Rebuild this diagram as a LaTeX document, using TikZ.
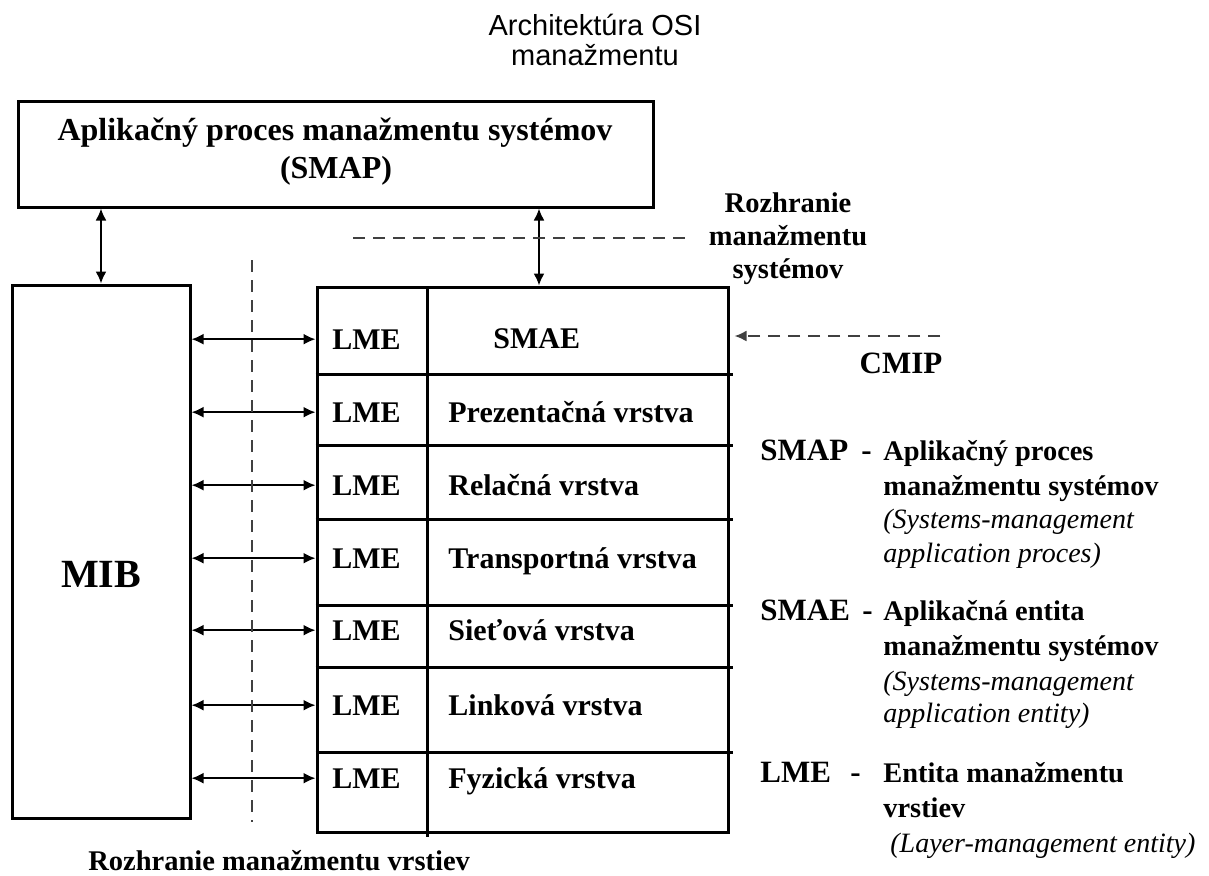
\documentclass[tikz,border=0pt]{standalone}
\usepackage{fontspec}
\setmainfont{Liberation Serif}
\newfontfamily\arialf{Liberation Sans}
\usetikzlibrary{arrows.meta}
\begin{document}
\begin{tikzpicture}[x=0.5pt,y=-0.5pt,
  box/.style={draw, line width=1.5pt, inner sep=0pt, rectangle},
  frame/.style={line width=1.5pt},
  txt/.style={inner sep=0pt, anchor=base west, font=\bfseries\fontsize{15}{18}\selectfont},
  ctxt/.style={inner sep=0pt, anchor=base, font=\bfseries\fontsize{14.25}{17}\selectfont},
  keytxt/.style={inner sep=0pt, anchor=base west, font=\bfseries\fontsize{15.5}{18}\selectfont},
  deftxt/.style={inner sep=0pt, anchor=base west, font=\bfseries\fontsize{14.2}{17}\selectfont},
  ittxt/.style={inner sep=0pt, anchor=base west, font=\itshape\fontsize{14}{17}\selectfont},
  titletxt/.style={inner sep=0pt, anchor=base, font=\arialf\fontsize{14.5}{17}\selectfont},
  hdtxt/.style={inner sep=0pt, anchor=base, font=\bfseries\fontsize{16}{19}\selectfont},
  arr/.style={line width=1pt, {Latex[length=6pt,width=5.5pt]}-{Latex[length=6pt,width=5.5pt]}},
  dashln/.style={line width=1pt, draw=black!75, dash pattern=on 6pt off 4pt}
]
\useasboundingbox (0,0) rectangle (1209,875);

% title
\node[titletxt] (t1) at (595,35) {Architektúra OSI};
\node[titletxt] (t2) at (595,65) {manažmentu};

% main boxes
\node[box, minimum width=317.5pt, minimum height=53pt] (smap) at (335.5,154) {};
\node[hdtxt] (h1) at (335,140) {Aplikačný proces manažmentu systémov};
\node[hdtxt] (h2) at (336,178) {(SMAP)};

\node[box, minimum width=89pt, minimum height=266.5pt] (mib) at (101,551.5) {};
\node[inner sep=0pt, anchor=base, font=\bfseries\fontsize{20}{24}\selectfont] (mibt) at (101,587) {MIB};

\node[box, minimum width=205.5pt, minimum height=272.5pt] (stack) at (522.5,559.5) {};
% internal grid
\draw[frame] (427,287) -- (427,837);
\foreach \yy in {374,445,519,605,667,752} {
  \draw[frame] (stack.west |- 0,\yy) -- (733,\yy);
}

% cell texts
\node[txt] (lme1) at (332,349) {LME};
\node[txt] (lme2) at (332,422) {LME};
\node[txt] (lme3) at (332,495) {LME};
\node[txt] (lme4) at (332,568) {LME};
\node[txt] (lme5) at (332,640) {LME};
\node[txt] (lme6) at (332,715) {LME};
\node[txt] (lme7) at (332,788) {LME};
\node[txt] (smae) at (493,348) {SMAE};
\node[txt] (l2) at (448,422) {Prezentačná vrstva};
\node[txt] (l3) at (448,495) {Relačná vrstva};
\node[txt] (l4) at (448,568) {Transportná vrstva};
\node[txt] (l5) at (448,640) {Sieťová vrstva};
\node[txt] (l6) at (448,715) {Linková vrstva};
\node[txt] (l7) at (448,788) {Fyzická vrstva};

% vertical arrows
\draw[arr] (mib.north) -- (mib.north |- smap.south);
\coordinate (sx) at (539,0);
\draw[arr] (smap.south -| sx) -- (stack.north -| sx);

% horizontal arrows
\foreach \n in {1,...,7} {
  \draw[arr] (mib.east |- lme\n.west) -- (stack.west |- lme\n.west);
}

% dashed interface lines
\draw[dashln] (353,238) -- (687,238);
\draw[dashln] (252,260) -- (252,822);
\coordinate (cmips) at (940,336);
\draw[dashln, -{Latex[length=6pt,width=5.5pt]}, shorten >=2.5pt] (cmips) -- (stack.east |- cmips);

% right labels
\node[ctxt] (r1) at (788,212) {Rozhranie};
\node[ctxt] (r2) at (788,245) {manažmentu};
\node[ctxt] (r3) at (788,278) {systémov};
\node[inner sep=0pt, anchor=base, font=\bfseries\fontsize{15.5}{18}\selectfont] (cmip) at (901,373) {CMIP};

% legend
\node[keytxt] (k1) at (760,460) {SMAP};
\node[keytxt] (k1d) at (861,460) {-};
\node[deftxt] (d1a) at (883,460) {Aplikačný proces};
\node[deftxt] (d1b) at (883,495) {manažmentu systémov};
\node[ittxt] (d1c) at (883,528) {(Systems-management};
\node[ittxt] (d1d) at (883,562) {application proces)};

\node[keytxt] (k2) at (760,620) {SMAE};
\node[keytxt] (k2d) at (862,620) {-};
\node[deftxt] (d2a) at (883,620) {Aplikačná entita};
\node[deftxt] (d2b) at (883,655) {manažmentu systémov};
\node[ittxt] (d2c) at (883,690) {(Systems-management};
\node[ittxt] (d2d) at (883,722) {application entity)};

\node[keytxt] (k3) at (760,782) {LME};
\node[keytxt] (k3d) at (850,782) {-};
\node[deftxt] (d3a) at (883,782) {Entita manažmentu};
\node[deftxt] (d3b) at (883,817) {vrstiev};
\node[ittxt] (d3c) at (890,852) {(Layer-management entity)};

% bottom label
\node[inner sep=0pt, anchor=base west, font=\bfseries\fontsize{14.25}{17}\selectfont] (bot) at (88,870) {Rozhranie manažmentu vrstiev};
\end{tikzpicture}
\end{document}
